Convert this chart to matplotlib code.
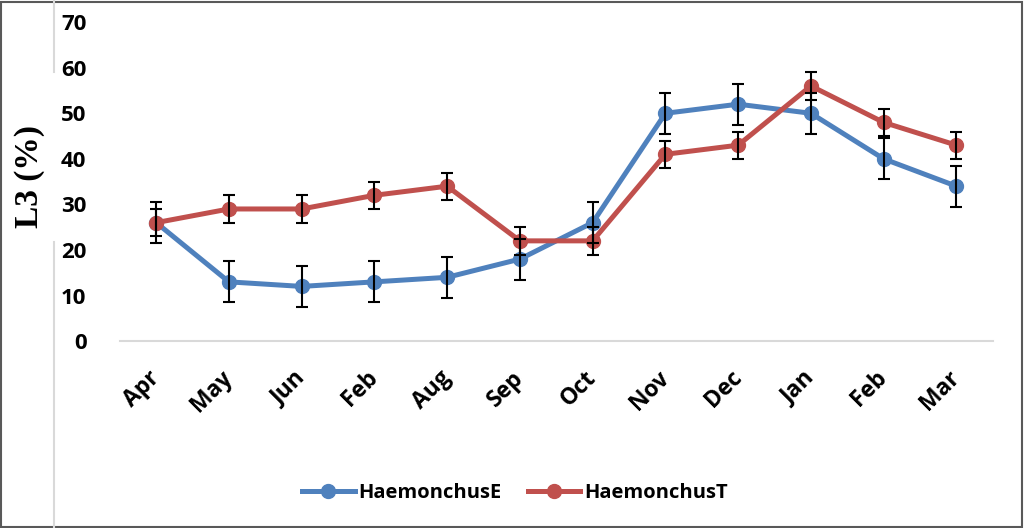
import matplotlib.pyplot as plt
from matplotlib.lines import Line2D
from matplotlib.patches import Rectangle
from matplotlib.transforms import ScaledTranslation

months = ['Apr', 'May', 'Jun', 'Feb', 'Aug', 'Sep', 'Oct', 'Nov', 'Dec', 'Jan', 'Feb', 'Mar']
haem_e = [26, 13, 12, 13, 14, 18, 26, 50, 52, 50, 40, 34]
haem_e_err = [4.5, 4.5, 4.5, 4.5, 4.5, 4.5, 4.5, 4.5, 4.5, 4.5, 4.5, 4.5]
haem_t = [26, 29, 29, 32, 34, 22, 22, 41, 43, 56, 48, 43]
haem_t_err = [3, 3, 3, 3, 3, 3, 3, 3, 3, 3, 3, 3]

blue = '#4F81BD'
red = '#C0504D'

plt.rcParams['font.family'] = ['Open Sans', 'DejaVu Sans']

fig = plt.figure(figsize=(10.24, 5.28), dpi=100)
ax = fig.add_axes([0.117, 0.354, 0.8525, 0.604])

x = range(len(months))
for vals, errs, col, name in [(haem_e, haem_e_err, blue, 'HaemonchusE'),
                              (haem_t, haem_t_err, red, 'HaemonchusT')]:
    ax.plot(x, vals, color=col, lw=3.6, marker='o', ms=10, label=name, zorder=3)
    ax.errorbar(x, vals, yerr=errs, fmt='none', ecolor='black', elinewidth=1.5,
                capsize=4, capthick=1.5, zorder=4)

ax.set_xlim(-0.5, len(months) - 0.5)
ax.set_ylim(0, 70)
ax.set_yticks(range(0, 71, 10))
ax.set_xticks(list(x))
ax.set_xticklabels(months, rotation=45, ha='right', va='center',
                   rotation_mode='anchor', fontsize=16.5, fontweight='bold')
shift = ScaledTranslation(-10 / 72, 0, fig.dpi_scale_trans)
for lab in ax.get_xticklabels():
    lab.set_transform(lab.get_transform() + shift)
for lab in ax.get_yticklabels():
    lab.set_fontsize(16)
    lab.set_fontweight('bold')
ax.tick_params(axis='both', length=0)
ax.tick_params(axis='x', pad=24)
ax.tick_params(axis='y', pad=24)
for s in ['top', 'right', 'left']:
    ax.spines[s].set_visible(False)
ax.spines['bottom'].set_color('#D9D9D9')
ax.spines['bottom'].set_linewidth(1.5)

fig.text(0.029, 0.665, 'L3 (%)', rotation=90, ha='center', va='center',
         fontsize=24, fontweight='bold', family='Liberation Serif')

ax.legend(loc='center', bbox_to_anchor=(0.503, 0.066), bbox_transform=fig.transFigure,
          ncol=2, frameon=False, prop={'size': 14.5, 'weight': 'bold'},
          handlelength=2.6, handletextpad=0.2, columnspacing=1.3)

# screenshot frame lines
fig.add_artist(Line2D([54 / 1024, 54 / 1024], [1, 1 - 72 / 528], color='#D9D9D9', lw=1.5))
fig.add_artist(Line2D([54 / 1024, 54 / 1024], [1 - 242 / 528, 0], color='#D9D9D9', lw=1.5))
fig.add_artist(Rectangle((0.001, 0.002), 0.997, 0.995, fill=False, edgecolor='#595959', lw=1.5,
                         transform=fig.transFigure))

fig.savefig('out.png', dpi=100)
